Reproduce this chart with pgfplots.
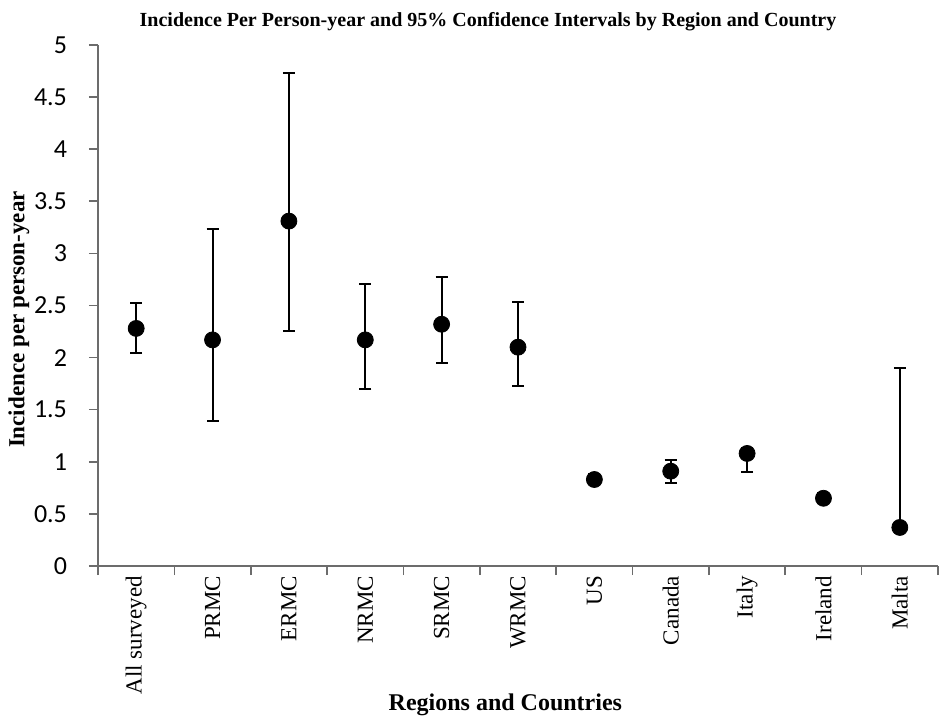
\documentclass[border=0pt]{standalone}
\usepackage{pgfplots}
\pgfplotsset{compat=1.18}
\usepackage{pgfplotstable}
\usepackage{fontspec}
\setmainfont{Liberation Serif}
\newfontfamily\calibri{Carlito}
\pgfplotstableread{
x y ep em
0 2.28 0.24 0.24
1 2.17 1.06 0.78
2 3.31 1.42 1.05
3 2.17 0.54 0.47
4 2.32 0.45 0.37
5 2.10 0.43 0.37
6 0.83 0.05 0.04
7 0.91 0.11 0.11
8 1.08 0.05 0.18
9 0.65 0.05 0.05
10 0.37 1.53 0
}\datatable
\begin{document}
\begin{tikzpicture}
\useasboundingbox (-49pt,-75pt) rectangle (424pt,283pt);
\begin{axis}[
  at={(0,0)}, anchor=south west,
  scale only axis, width=420pt, height=260.5pt,
  xmin=-0.5, xmax=10.5, ymin=0, ymax=5,
  axis lines*=left,
  axis line style={-, draw=gray!85!black, line width=0.8pt},
  tick style={draw=gray!85!black, line width=0.8pt},
  tick align=outside,
  major tick length=4.5pt, minor tick length=4.5pt,
  xtick={0,...,10},
  xticklabels={All surveyed,PRMC,ERMC,NRMC,SRMC,WRMC,US,Canada,Italy,Ireland,Malta},
  major x tick style={draw=none},
  minor xtick={-0.5,0.5,...,10.5},
  xticklabel style={rotate=90, anchor=east, font=\fontsize{11.5}{13}\selectfont, xshift=3pt},
  ytick={0,0.5,...,5},
  /pgf/number format/assume math mode=true,
  yticklabel style={font=\calibri\fontsize{13}{15}\selectfont, xshift=-7.5pt},
  title={Incidence Per Person-year and 95\% Confidence Intervals by Region and Country},
  title style={font=\bfseries\fontsize{10}{12}\selectfont, at={(0.5,1)}, anchor=base, yshift=3pt, xshift=-15pt},
  ylabel={Incidence per person-year},
  ylabel style={font=\bfseries\fontsize{11.5}{13}\selectfont, at={(axis description cs:0,0.473)}, anchor=center, yshift=39.5pt},
  xlabel={Regions and Countries},
  xlabel style={font=\bfseries\fontsize{12}{14}\selectfont, at={(axis description cs:0.485,0)}, anchor=center, yshift=-69.5pt},
  clip=false,
]
\addplot[only marks, mark=*, mark size=4pt, black,
  error bars/.cd, y dir=both, y explicit,
  error bar style={line width=1pt, black},
  error mark options={rotate=90, mark size=3pt, line width=1pt, black}]
  table[x=x, y=y, y error plus=ep, y error minus=em] {\datatable};
\end{axis}
\end{tikzpicture}
\end{document}
